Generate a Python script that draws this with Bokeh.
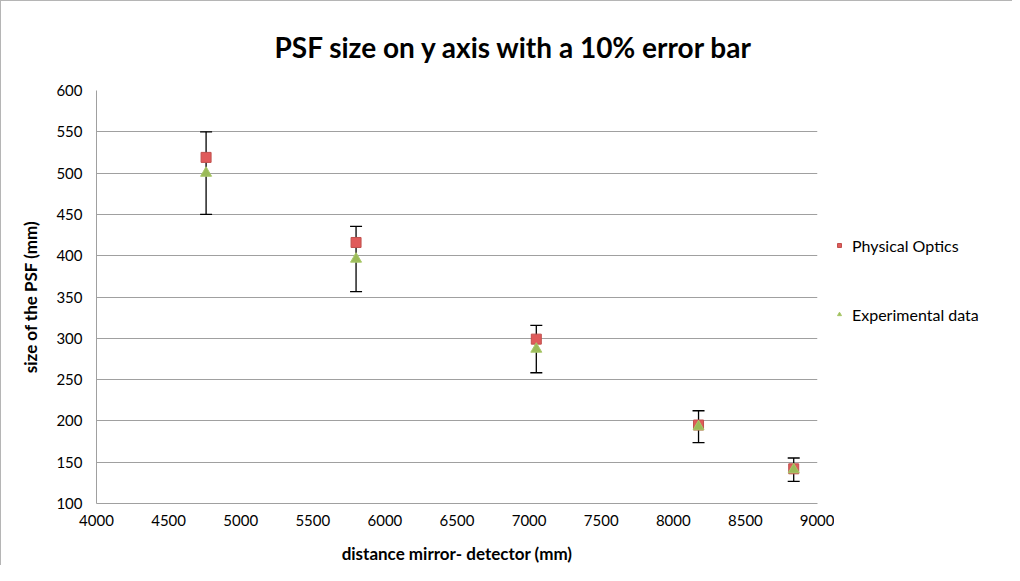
from bokeh.plotting import figure
from bokeh.layouts import row
from bokeh.models import ColumnDataSource, Whisker, TeeHead, FixedTicker, Legend, LegendItem, Range1d
from bokeh.embed import file_html
from bokeh.resources import INLINE

# ---- data ----
distance = [4760, 5800, 7050, 8175, 8835]
physical_optics = [519, 416, 299, 195, 142]
experimental = [500, 396, 287, 193, 141]
x_ticks = [4000, 4500, 5000, 5500, 6000, 6500, 7000, 7500, 8000, 8500, 9000]
y_ticks = [100, 150, 200, 250, 300, 350, 400, 450, 500, 550, 600]
error_fraction = 0.10
series_names = ["Physical Optics", "Experimental data"]

FONT = "Lato"
GRID = "#a0a0a0"
PO_STYLE = dict(marker="square", size=10, fill_color="#e05b5b", line_color="#c0504d", line_width=1)
EX_STYLE = dict(marker="triangle", size=11, fill_color="#9bbb59", line_color="#a9c86a", line_width=1)

src = ColumnDataSource(dict(
    x=distance,
    po=physical_optics,
    ex=experimental,
    upper=[v * (1 + error_fraction) for v in experimental],
    lower=[v * (1 - error_fraction) for v in experimental],
))

H = 565
p = figure(width=834, height=H, output_backend="svg", toolbar_location=None,
           x_range=Range1d(4000, 9000), y_range=Range1d(100, 600),
           min_border_left=95, min_border_right=18, min_border_top=89, min_border_bottom=62,
           title="PSF size on y axis with a 10% error bar")
p.styles = {"border-left": "1px solid #b5b5b5", "border-top": "1px solid #b5b5b5"}

p.title.text_font = FONT
p.title.text_font_size = "28px"
p.title.text_font_style = "bold"
p.title.text_color = "black"
p.title.align = "left"
p.title.offset = 178
p.title.vertical_align = "top"
p.title.standoff = 49

p.outline_line_color = None
p.background_fill_color = "white"
p.border_fill_color = "white"

p.xgrid.grid_line_color = None
p.ygrid.grid_line_color = GRID
p.ygrid.grid_line_width = 1

p.xaxis.ticker = FixedTicker(ticks=x_ticks)
p.yaxis.ticker = FixedTicker(ticks=y_ticks)
for ax in (p.xaxis, p.yaxis):
    ax.axis_line_color = GRID
    ax.major_tick_line_color = None
    ax.minor_tick_line_color = None
    ax.major_label_text_font = FONT
    ax.major_label_text_font_size = "15px"
    ax.major_label_text_color = "black"
    ax.axis_label_text_font = FONT
    ax.axis_label_text_font_size = "17px"
    ax.axis_label_text_font_style = "bold"
    ax.axis_label_text_color = "black"

p.xaxis.axis_label = "distance mirror- detector (mm)"
p.yaxis.axis_label = "size of the PSF (mm)"
p.xaxis.major_label_standoff = 5
p.xaxis.axis_label_standoff = 14
p.yaxis.major_label_standoff = 8
p.yaxis.axis_label_standoff = 12

# error bars
w = Whisker(source=src, base="x", upper="upper", lower="lower",
            line_color="black", line_width=1.3,
            upper_head=TeeHead(size=12, line_color="black", line_width=1.3),
            lower_head=TeeHead(size=12, line_color="black", line_width=1.3))
p.add_layout(w)

p.scatter("x", "po", source=src, **PO_STYLE)
p.scatter("x", "ex", source=src, **EX_STYLE)

# legend panel (separate figure to the right of the chart)
p2 = figure(width=178, height=H, output_backend="svg", toolbar_location=None,
            x_range=Range1d(0, 1), y_range=Range1d(0, 1),
            x_axis_type=None, y_axis_type=None,
            min_border_left=0, min_border_right=0, min_border_top=0, min_border_bottom=0)
p2.styles = {"border-top": "1px solid #b5b5b5"}
p2.outline_line_color = None
p2.xgrid.grid_line_color = None
p2.ygrid.grid_line_color = None
p2.background_fill_color = "white"
p2.border_fill_color = "white"
# off-screen stand-ins that only serve to draw the legend swatches
l_po = p2.scatter(x=[-10], y=[-10], **PO_STYLE)
l_ex = p2.scatter(x=[-10], y=[-10], **EX_STYLE)

legend = Legend(items=[LegendItem(label=series_names[0], renderers=[l_po]),
                       LegendItem(label=series_names[1], renderers=[l_ex])],
                location=(0, 179), orientation="vertical",
                glyph_width=10, glyph_height=20, label_height=20,
                label_standoff=8, spacing=49, padding=0, margin=0,
                label_text_font=FONT, label_text_font_size="16px",
                label_text_color="black",
                border_line_color=None, background_fill_alpha=0)
p2.add_layout(legend)

layout = row(p, p2, spacing=0)
open("out.html", "w").write(file_html(layout, INLINE))
